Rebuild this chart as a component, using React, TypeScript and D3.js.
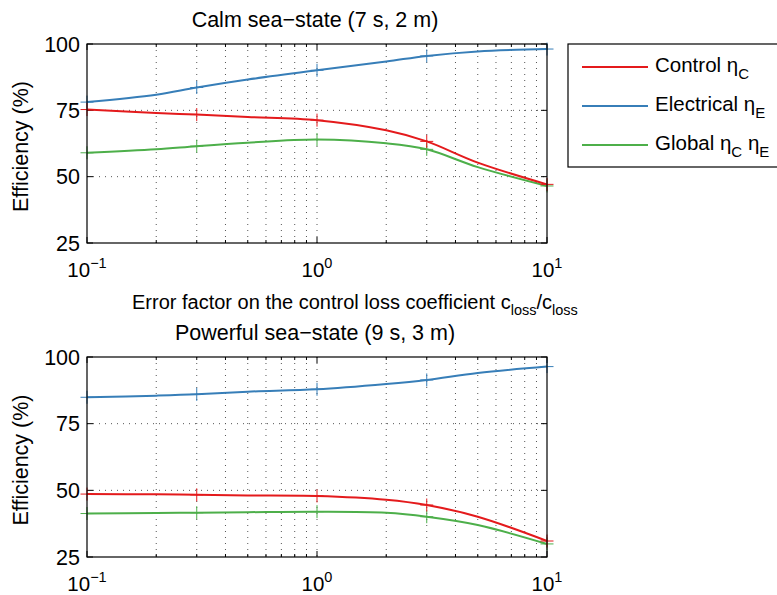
import React from "react";
import * as d3 from "d3";

// x positions (error factor) of the sampled curve points
const xs = [0.1, 0.2, 0.3, 0.5, 1, 2, 3, 5, 10];
// x positions of the '+' markers
const markerXs = [0.1, 0.3, 1, 3, 10];

// Calm sea-state (7 s, 2 m)
const calmControl = [75.3, 74.0, 73.4, 72.5, 71.3, 67.5, 63.3, 55.3, 47.1];
const calmElectrical = [78.1, 80.9, 83.6, 86.6, 90.1, 93.4, 95.5, 97.2, 98.1];
const calmGlobal = [59.0, 60.3, 61.5, 62.8, 64.0, 62.6, 60.3, 53.6, 46.5];

// Powerful sea-state (9 s, 3 m)
const powControl = [48.6, 48.5, 48.3, 48.1, 47.9, 46.5, 44.5, 40.1, 31.0];
const powElectrical = [84.9, 85.5, 86.0, 87.0, 87.9, 89.9, 91.4, 94.0, 96.4];
const powGlobal = [41.3, 41.5, 41.6, 41.8, 42.0, 41.6, 40.1, 37.0, 29.9];

const yTicks = [25, 50, 75, 100];
const xMajor = [0.1, 1, 10];
const xMajorExp = ["−1", "0", "1"];
const titles = ["Calm sea−state (7 s, 2 m)", "Powerful sea−state (9 s, 3 m)"];

const COLORS = { control: "#e41a1c", electrical: "#377eb8", global: "#4daf4a" };

const W = 777;
const H = 595;
const FONT = "'Liberation Sans', Arial, Helvetica, sans-serif";

const minorXs: number[] = [];
[0.1, 1].forEach((d) => {
  for (let k = 2; k <= 9; k++) minorXs.push(d * k);
});

function Panel({ top, bottom, title, series }: { top: number; bottom: number; title: string; series: { vals: number[]; color: string }[] }) {
  const x = d3.scaleLog().domain([0.1, 10]).range([87, 547]);
  const y = d3.scaleLinear().domain([25, 100]).range([bottom, top]);
  const line = d3
    .line<number>()
    .x((_, i) => x(xs[i]))
    .y((v) => y(v))
    .curve(d3.curveCatmullRom.alpha(0.5));
  const left = x.range()[0];
  const right = x.range()[1];
  const ms = 6.5;
  return (
    <g>
      {/* grid */}
      {[...minorXs, 1].map((v, i) => (
        <line key={"gx" + i} x1={x(v)} x2={x(v)} y1={top} y2={bottom} stroke="#555" strokeWidth={1} strokeDasharray="1,5" />
      ))}
      {[50, 75].map((v, i) => (
        <line key={"gy" + i} x1={left} x2={right} y1={y(v)} y2={y(v)} stroke="#555" strokeWidth={1} strokeDasharray="1,5" />
      ))}
      {/* ticks */}
      {yTicks.map((v, i) => (
        <g key={"yt" + i}>
          <line x1={left} x2={left + 6} y1={y(v)} y2={y(v)} stroke="#000" />
          <line x1={right} x2={right - 6} y1={y(v)} y2={y(v)} stroke="#000" />
          <text x={80} y={y(v) + 7.5} textAnchor="end" fontSize={21.5} fontFamily={FONT}>
            {v}
          </text>
        </g>
      ))}
      {xMajor.map((v, i) => (
        <g key={"xt" + i}>
          <line x1={x(v)} x2={x(v)} y1={bottom} y2={bottom - 6} stroke="#000" />
          <line x1={x(v)} x2={x(v)} y1={top} y2={top + 6} stroke="#000" />
          <text x={x(v)} y={bottom + 34} textAnchor="middle" fontSize={20.5} fontFamily={FONT}>
            10
            <tspan fontSize={14.5} dy={-9}>
              {xMajorExp[i]}
            </tspan>
          </text>
        </g>
      ))}
      {minorXs.map((v, i) => (
        <g key={"xm" + i}>
          <line x1={x(v)} x2={x(v)} y1={bottom} y2={bottom - 3} stroke="#000" />
          <line x1={x(v)} x2={x(v)} y1={top} y2={top + 3} stroke="#000" />
        </g>
      ))}
      {/* series */}
      {series.map((s, i) => (
        <g key={"s" + i}>
          <path d={line(s.vals) || ""} fill="none" stroke={s.color} strokeWidth={2} />
          {markerXs.map((mx, j) => {
            const v = s.vals[xs.indexOf(mx)];
            return (
              <g key={"m" + j}>
                <line x1={x(mx) - ms} x2={x(mx) + ms} y1={y(v)} y2={y(v)} stroke={s.color} strokeWidth={1} />
                <line x1={x(mx)} x2={x(mx)} y1={y(v) - ms} y2={y(v) + ms} stroke={s.color} strokeWidth={1} />
              </g>
            );
          })}
        </g>
      ))}
      {/* box */}
      <rect x={left} y={top} width={right - left} height={bottom - top} fill="none" stroke="#000" strokeWidth={1.2} />
      <text x={(left + right) / 2 - 2} y={top - 17} textAnchor="middle" fontSize={21.5} fontFamily={FONT}>
        {title}
      </text>
      <text transform={`translate(28,${(top + bottom) / 2 + 3}) rotate(-90)`} textAnchor="middle" fontSize={21.5} fontFamily={FONT}>
        Efficiency (%)
      </text>
    </g>
  );
}

export default function App() {
  const legend = [
    { color: COLORS.control, label: "Control η", sub: ["C"] },
    { color: COLORS.electrical, label: "Electrical η", sub: ["E"] },
    { color: COLORS.global, label: "Global η", sub: ["C", "E"] },
  ];
  return (
    <svg width={W} height={H} style={{ position: "absolute", left: 0, top: 0, background: "#fff" }}>
      <rect width={W} height={H} fill="#fff" />
      <Panel
        top={44}
        bottom={243}
        title={titles[0]}
        series={[
          { vals: calmElectrical, color: COLORS.electrical },
          { vals: calmGlobal, color: COLORS.global },
          { vals: calmControl, color: COLORS.control },
        ]}
      />
      <Panel
        top={357}
        bottom={557}
        title={titles[1]}
        series={[
          { vals: powElectrical, color: COLORS.electrical },
          { vals: powGlobal, color: COLORS.global },
          { vals: powControl, color: COLORS.control },
        ]}
      />
      <text x={132} y={309} fontSize={20} fontFamily={FONT}>
        Error factor on the control loss coefficient c
        <tspan fontSize={14.5} dy={6}>loss</tspan>
        <tspan dy={-6}>/c</tspan>
        <tspan fontSize={14.5} dy={6}>loss</tspan>
      </text>
      {/* legend */}
      <rect x={568} y={44} width={260} height={123} fill="#fff" stroke="#000" strokeWidth={1.2} />
      {legend.map((l, i) => {
        const yy = 67 + i * 39;
        return (
          <g key={"lg" + i}>
            <line x1={582} x2={648} y1={yy} y2={yy} stroke={l.color} strokeWidth={2} />
            <text x={655} y={yy + 5} fontSize={20.5} fontFamily={FONT}>
              {l.label}
              <tspan fontSize={15} dy={7}>{l.sub[0]}</tspan>
              {l.sub.length > 1 ? (
                <>
                  <tspan dy={-7}> η</tspan>
                  <tspan fontSize={15} dy={7}>{l.sub[1]}</tspan>
                </>
              ) : null}
            </text>
          </g>
        );
      })}
    </svg>
  );
}
